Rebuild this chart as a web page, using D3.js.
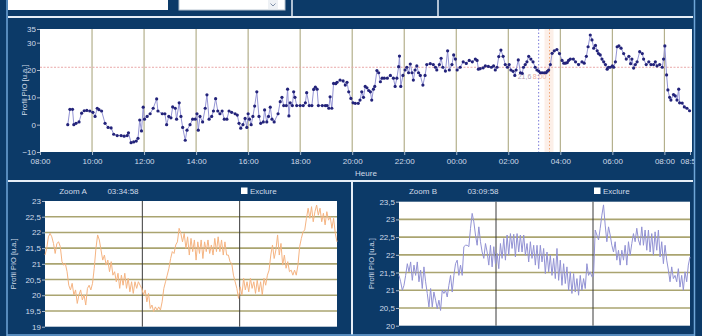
<!DOCTYPE html>
<html lang="fr">
<head>
<meta charset="UTF-8">
<script src="https://d3js.org/d3.v7.min.js"></script>
<style>
  body { margin: 0; background: #0c3a68; }
  svg { display: block; font-family: "Liberation Sans", Arial, sans-serif; }
</style>
</head>
<body>
<svg id="screen" width="702" height="336"></svg>
<script>
// main trend: minutes after 08:00, profile value
var mainMinutes = [64,69,75,78,83,90,96,102,108,115,122,127,132,136,142,150,157,164,170,178,
  187,194,201,204,210,216,222,226,230,234,238,241,247,254,261,269,272,282,288,292,
  297,302,306,312,315,321,325,329,335,339,346,352,358,362,365,369,375,381,385,390,
  396,400,405,410,415,420,425,431,436,442,450,455,459,463,468,473,477,480,483,487,
  491,495,500,505,509,515,518,523,527,531,535,540,549,554,558,562,568,571,574,577,
  582,585,588,592,600,607,612,615,621,627,631,635,639,642,651,658,662,666,669,673,
  677,682,685,692,699,704,708,712,717,722,727,734,738,742,746,750,754,758,762,765,
  769,772,777,781,785,789,794,801,808,815,819,823,827,829,832,837,842,846,850,854,
  858,861,865,869,873,877,883,888,892,900,907,912,915,921,925,929,935,940,944,950,
  954,958,962,969,976,983,990,997,1004,1008,1011,1015,1022,1027,1034,1041,1046,1050,1054,1058,
  1063,1068,1073,1078,1082,1086,1091,1095,1098,1103,1108,1112,1115,1119,1123,1127,1132,1137,1142,1146,
  1150,1154,1158,1163,1167,1170,1173,1177,1181,1186,1192,1198,1204,1208,1212,1216,1219,1223,1230,1235,
  1242,1250,1255,1260,1264,1269,1273,1277,1281,1285,1288,1292,1296,1300,1304,1308,1311,1315,1320,1323,
  1327,1331,1335,1340,1346,1352,1358,1362,1365,1369,1373,1377,1383,1389,1392,1398,1404,1409,1415,1419,
  1423,1429,1435,1438,1441,1445,1448,1452,1455,1461,1465,1469,1473,1475,1481,1486,1492,1498];
var mainValues = [0,5.6,5.6,0,0.5,1,4.2,5.1,5.2,5,
  4.5,3,6,5.5,5,0.5,-1,-1.2,-3.5,-4,
  -4,-4.2,-4,-3,-6.6,-6.3,-6,-5,1.7,-2.3,
  6.4,2,3,4,6,9.4,5,4,4,0,
  3,2.5,6.5,6,2,8,3,-1,-5.7,-2,
  0,2,2,4,-2,3,1,6,10.9,2,
  3,5,9.5,5,4,5,2,2,5,4.5,
  4,3.5,0.5,-1.3,0,2.3,-1,4,2,0,
  3,6.8,12,3,0.5,1,5.4,1,3,6.4,
  2,1,4,8.4,10,7,7,13,3.2,8,
  7,12,10,7,7,7,8,11.7,7,7,
  12.9,13.7,13,7,7,7,7,6,10.2,6,
  15.1,15,15.5,16.3,16,14.5,15.5,12,9.6,8,
  7.8,7.8,9,12,10,14,13.5,12.5,12,9,
  13,14,19.8,19,15.7,17,17,17,18,17,
  14,17,21.2,25.1,14,18,20,21,19,22.2,
  19,16.3,20,21.5,19,18,14.5,18,22,22.3,
  22,21,20,22,24.3,21,19.6,27,20,22,
  25.5,24,20,21,23,22.4,23.5,23,24,23.5,
  20.3,20.5,20.8,21.5,21.3,21,21.5,20,21,24.9,
  27.3,25,22,21,22,20,19.5,18,20,23.7,
  19,18.8,21,22,23,25,24,23,21,20,
  19.6,19,19,19,19,19.5,20,22,26.1,27,
  27.5,26,23.5,22.5,22.5,22.7,23.5,24,24,23,
  22,23,22.5,25,28.5,32.8,31,28,29,27,
  26,25.5,24,23,22,20.3,21,21,21.5,21,
  23,28.5,28.8,28,26,24,25,22.3,24,20.7,
  22,23,26.7,26,24,22,23,22,22,23,
  21.5,22,21,24,28.8,18.2,12.7,10,9,11,
  10.5,9,13,8,7.9,6.5,6,5.1];

var mainTickMinutes = [0,120,240,360,480,600,720,840,960,1080,1200,1320,1440,1499];
var mainTickLabels = ["08:00","10:00","12:00","14:00","16:00","18:00","20:00","22:00","00:00","02:00","04:00","06:00","08:00","08:59"];
var mainYTicks = [35,30,20,10,0,-10];
var refLevel = 21;
var cursorB = 1150;   // 03:09:58
var cursorA = 1175;   // 03:34:58

// zoom windows, samples every ~2 s over 6 minutes
var zoomAValues = [21.28,21.49,21.86,21.97,21.86,21.65,21.33,21.65,21.70,21.55,
  21.07,20.96,21.01,20.75,20.32,20.17,20.38,20.01,20.17,19.74,
  20.01,20.17,19.85,20.01,19.69,20.22,20.32,20.17,20.38,20.86,
  21.49,21.92,21.76,21.44,21.12,21.28,20.96,21.12,20.75,21.07,
  20.64,20.75,20.43,20.70,20.22,20.64,20.32,20.70,20.22,20.54,
  20.11,20.43,20.06,20.43,20.22,20.43,20.32,20.22,20.01,20.17,
  19.79,20.06,19.58,19.69,19.48,19.63,19.53,19.63,19.53,19.79,
  20.22,20.43,20.64,20.86,21.17,21.39,21.33,21.60,21.70,22.13,
  21.97,21.70,21.97,21.49,21.86,21.28,21.81,21.39,21.76,21.12,
  21.70,21.33,21.76,21.17,21.70,21.39,21.76,21.33,21.60,21.28,
  21.81,21.39,21.86,21.39,21.76,21.28,21.70,21.28,21.28,21.07,
  21.01,20.64,20.43,20.22,19.90,20.27,20.01,20.54,20.17,20.43,
  20.11,20.54,20.22,20.43,20.06,20.48,20.11,20.43,20.01,20.54,
  20.32,20.64,20.80,21.28,21.60,21.17,21.44,21.92,21.28,21.65,
  20.96,21.28,20.86,21.07,20.75,20.80,20.64,20.80,20.64,20.96,
  21.55,21.81,22.02,22.08,22.45,22.77,22.45,22.82,22.34,22.66,
  22.87,22.55,22.77,22.34,22.61,22.24,22.66,22.39,22.50,22.13,
  22.45,21.97,21.70];
var zoomBValues = [21.42,21.24,21.00,21.14,21.42,21.75,21.52,21.80,21.28,21.71,
  21.42,21.80,21.24,21.57,21.05,21.66,21.24,20.91,20.53,21.05,
  20.53,20.95,20.72,20.48,20.72,20.43,21.00,20.91,21.00,20.81,
  21.14,21.42,20.95,21.42,21.75,21.85,21.42,21.71,21.42,22.23,
  22.27,22.27,22.23,22.75,23.17,22.93,22.56,22.27,22.79,22.37,
  22.08,21.90,22.32,22.08,21.71,22.27,21.66,22.23,21.75,22.04,
  21.61,22.32,21.90,22.46,21.85,22.56,21.99,22.60,22.18,22.58,
  21.94,22.60,22.08,22.56,22.08,22.56,21.99,22.32,21.80,22.37,
  21.90,22.27,21.71,22.27,21.61,22.27,21.80,22.18,21.47,22.08,
  21.52,21.99,21.42,21.90,21.33,22.18,21.28,21.85,21.14,21.75,
  21.19,21.66,21.00,21.52,20.91,21.47,20.95,21.33,20.86,21.42,
  21.00,21.33,21.05,21.75,21.42,21.52,21.38,21.42,22.70,22.56,
  22.42,22.75,23.12,23.41,22.84,22.37,22.79,22.56,22.27,22.08,
  22.37,21.85,22.13,21.71,22.13,21.85,22.27,21.71,22.37,21.99,
  22.32,22.60,22.37,22.75,22.42,22.27,22.79,22.27,22.70,22.13,
  22.70,22.08,22.60,21.99,22.65,22.13,22.70,21.94,22.37,21.75,
  22.27,21.85,21.57,21.24,21.66,21.33,21.42,21.24,21.61,21.09,
  21.42,21.00,21.52,21.24,21.71,21.94];
var zoomWindowSec = [-180, 180];
var zoomMarkSec = [-60, 60];
var zoomATicks = [23,22.5,22,21.5,21,20.5,20,19.5,19];
var zoomBTicks = [23.5,23,22.5,22,21.5,21,20.5,20];

var NAVY = '#0c3a68', LINE = '#e6eef7', EDGE = '#6fa6d8', TXT = '#d0dae8';
var svg = d3.select('#screen');
var fmtComma = d => String(d).replace('.', ',');

svg.append('rect').attr('width', 702).attr('height', 336).attr('fill', NAVY);

// top toolbar
svg.append('rect').attr('x', 8).attr('y', -2).attr('width', 160).attr('height', 12).attr('fill', '#fff');
svg.append('rect').attr('x', 179).attr('y', -2).attr('width', 106).attr('height', 12)
  .attr('fill', '#fff').attr('stroke', '#b8c4d0');
svg.append('rect').attr('x', 268).attr('y', 0).attr('width', 10).attr('height', 9).attr('fill', '#eef1f5');
svg.append('path').attr('d', 'M270.5,3.5 L273,6 L275.5,3.5').attr('fill', 'none').attr('stroke', '#8090a8');
[292, 438].forEach(x => svg.append('line').attr('x1', x).attr('x2', x).attr('y1', 0).attr('y2', 17)
  .attr('stroke', LINE).attr('stroke-width', 1.5));
svg.append('line').attr('x1', 8).attr('x2', 693).attr('y1', 17).attr('y2', 17).attr('stroke', LINE).attr('stroke-width', 2);
svg.append('line').attr('x1', 8).attr('x2', 693).attr('y1', 181).attr('y2', 181).attr('stroke', LINE).attr('stroke-width', 2);
svg.append('line').attr('x1', 352).attr('x2', 352).attr('y1', 181).attr('y2', 335).attr('stroke', LINE).attr('stroke-width', 2);
svg.append('line').attr('x1', 7).attr('x2', 7).attr('y1', 0).attr('y2', 336).attr('stroke', EDGE).attr('stroke-width', 1.5);
svg.append('line').attr('x1', 694.5).attr('x2', 694.5).attr('y1', 0).attr('y2', 336).attr('stroke', EDGE).attr('stroke-width', 1.5);
svg.append('line').attr('x1', 7).attr('x2', 695).attr('y1', 335).attr('y2', 335).attr('stroke', EDGE).attr('stroke-width', 1.5);

function styleAxis(g) {
  g.select('.domain').remove();
  g.selectAll('.tick line').attr('stroke', TXT).attr('stroke-width', 0.8);
  g.selectAll('.tick text').attr('fill', TXT).attr('font-size', 8)
    .attr('font-family', '"Liberation Sans", Arial, sans-serif');
}

// ---------- main chart ----------
var clip = svg.append('clipPath').attr('id', 'mainClip');
clip.append('rect').attr('x', 8).attr('y', 17).attr('width', 686).attr('height', 164);
var main = svg.append('g').attr('clip-path', 'url(#mainClip)');

var x = d3.scaleLinear().domain([0, 1499]).range([40, 690]);
var y = d3.scaleLinear().domain([-10, 35]).range([152, 29]);

main.append('rect').attr('x', 40).attr('y', 29).attr('width', 652).attr('height', 123).attr('fill', '#fff');

main.append('g').selectAll('line').data(mainTickMinutes.slice(1, -1)).enter().append('line')
  .attr('x1', d => x(d)).attr('x2', d => x(d)).attr('y1', 29).attr('y2', 152)
  .attr('stroke', '#b4b08c').attr('stroke-width', 1.2);

main.append('rect').attr('x', x(cursorA) - 5).attr('y', 29).attr('width', 9).attr('height', 123)
  .attr('fill', '#fcefe8');

main.append('line').attr('x1', 40).attr('x2', 692).attr('y1', y(refLevel)).attr('y2', y(refLevel))
  .attr('stroke', '#e9a8a8').attr('stroke-width', 1).attr('stroke-dasharray', '2,1.5');
main.append('line').attr('x1', x(cursorB)).attr('x2', x(cursorB)).attr('y1', 29).attr('y2', 152)
  .attr('stroke', '#7a7ad8').attr('stroke-width', 1).attr('stroke-dasharray', '1.5,2');
main.append('line').attr('x1', x(cursorA)).attr('x2', x(cursorA)).attr('y1', 29).attr('y2', 152)
  .attr('stroke', '#f0a878').attr('stroke-width', 1).attr('stroke-dasharray', '1.5,2');
main.append('text').attr('x', x(cursorB) - 21).attr('y', y(refLevel) + 12)
  .attr('font-size', 7).attr('fill', '#b0a0b0').text('21,6');
main.append('text').attr('x', x(cursorB) - 6).attr('y', y(refLevel) + 12)
  .attr('font-size', 7).attr('fill', '#f0b0a0').text('8:00');

var pts = mainMinutes.map((m, i) => [m, mainValues[i]]);
main.append('path').datum(pts)
  .attr('d', d3.line().x(d => x(d[0])).y(d => y(d[1])))
  .attr('fill', 'none').attr('stroke', '#9494d4').attr('stroke-width', 1);
main.append('g').selectAll('circle').data(pts).enter().append('circle')
  .attr('cx', d => x(d[0])).attr('cy', d => y(d[1])).attr('r', 1.6).attr('fill', '#23237a');

var xAxis = main.append('g').attr('transform', 'translate(0,152)')
  .call(d3.axisBottom(x).tickValues(mainTickMinutes).tickFormat((d, i) => mainTickLabels[i]).tickSize(3).tickPadding(3));
styleAxis(xAxis);
var yAxis = main.append('g').attr('transform', 'translate(40,0)')
  .call(d3.axisLeft(y).tickValues(mainYTicks).tickSize(3).tickPadding(1));
styleAxis(yAxis);

main.append('text').attr('x', 366).attr('y', 176).attr('text-anchor', 'middle')
  .attr('font-size', 8).attr('fill', TXT).text('Heure');
main.append('text').attr('transform', 'translate(27,90) rotate(-90)').attr('text-anchor', 'middle')
  .attr('font-size', 7.5).attr('fill', TXT).text('Profil PIO [u.a.]');

// ---------- zoom panels ----------
function zoomPanel(opt) {
  var g = svg.append('g');
  var n = opt.values.length;
  var xs = d3.scaleLinear().domain(zoomWindowSec).range([opt.left, opt.right]);
  var ys = d3.scaleLinear().domain([opt.ticks[opt.ticks.length - 1], opt.ticks[0]]).range([opt.bottom, opt.top]);
  var step = (zoomWindowSec[1] - zoomWindowSec[0]) / (n - 1);

  g.append('rect').attr('x', opt.left).attr('y', opt.top).attr('width', opt.right - opt.left)
    .attr('height', opt.bottom - opt.top).attr('fill', '#fff');
  g.append('g').selectAll('line').data(opt.ticks.slice(1, -1)).enter().append('line')
    .attr('x1', opt.left).attr('x2', opt.right).attr('y1', d => ys(d)).attr('y2', d => ys(d))
    .attr('stroke', '#aaa470').attr('stroke-width', 1.6);
  g.append('g').selectAll('line').data(zoomMarkSec).enter().append('line')
    .attr('x1', d => xs(d)).attr('x2', d => xs(d)).attr('y1', opt.top).attr('y2', opt.bottom)
    .attr('stroke', '#3a3a3a').attr('stroke-width', 1);
  g.append('path').datum(opt.values)
    .attr('d', d3.line().x((d, i) => xs(zoomWindowSec[0] + i * step)).y(d => ys(d)))
    .attr('fill', 'none').attr('stroke', opt.color).attr('stroke-width', 1);

  var ax = g.append('g').attr('transform', 'translate(' + opt.left + ',0)')
    .call(d3.axisLeft(ys).tickValues(opt.ticks).tickFormat(fmtComma).tickSize(3).tickPadding(1));
  styleAxis(ax);
  g.append('text').attr('transform', 'translate(' + opt.labelX + ',' + ((opt.top + opt.bottom) / 2) + ') rotate(-90)')
    .attr('text-anchor', 'middle').attr('font-size', 7.5).attr('fill', TXT).text('Profil PIO [u.a.]');
  g.append('text').attr('x', opt.titleX).attr('y', 194).attr('text-anchor', 'middle')
    .attr('font-size', 8).attr('fill', TXT).text(opt.title);
  g.append('text').attr('x', opt.timeX).attr('y', 194).attr('text-anchor', 'middle')
    .attr('font-size', 8).attr('fill', TXT).text(opt.time);
  g.append('rect').attr('x', opt.boxX).attr('y', 187.5).attr('width', 6.5).attr('height', 6.5).attr('fill', '#fff');
  g.append('text').attr('x', opt.boxX + 9).attr('y', 194).attr('font-size', 8).attr('fill', TXT).text('Exclure');
}

zoomPanel({ values: zoomAValues, ticks: zoomATicks, color: '#f5b482',
  left: 45, right: 337, top: 201, bottom: 326.7, labelX: 16,
  title: 'Zoom A', titleX: 73, time: '03:34:58', timeX: 123, boxX: 241 });
zoomPanel({ values: zoomBValues, ticks: zoomBTicks, color: '#9292d4',
  left: 399, right: 690, top: 201.7, bottom: 325.7, labelX: 374,
  title: 'Zoom B', titleX: 423, time: '03:09:58', timeX: 483, boxX: 594 });
</script>
</body>
</html>
